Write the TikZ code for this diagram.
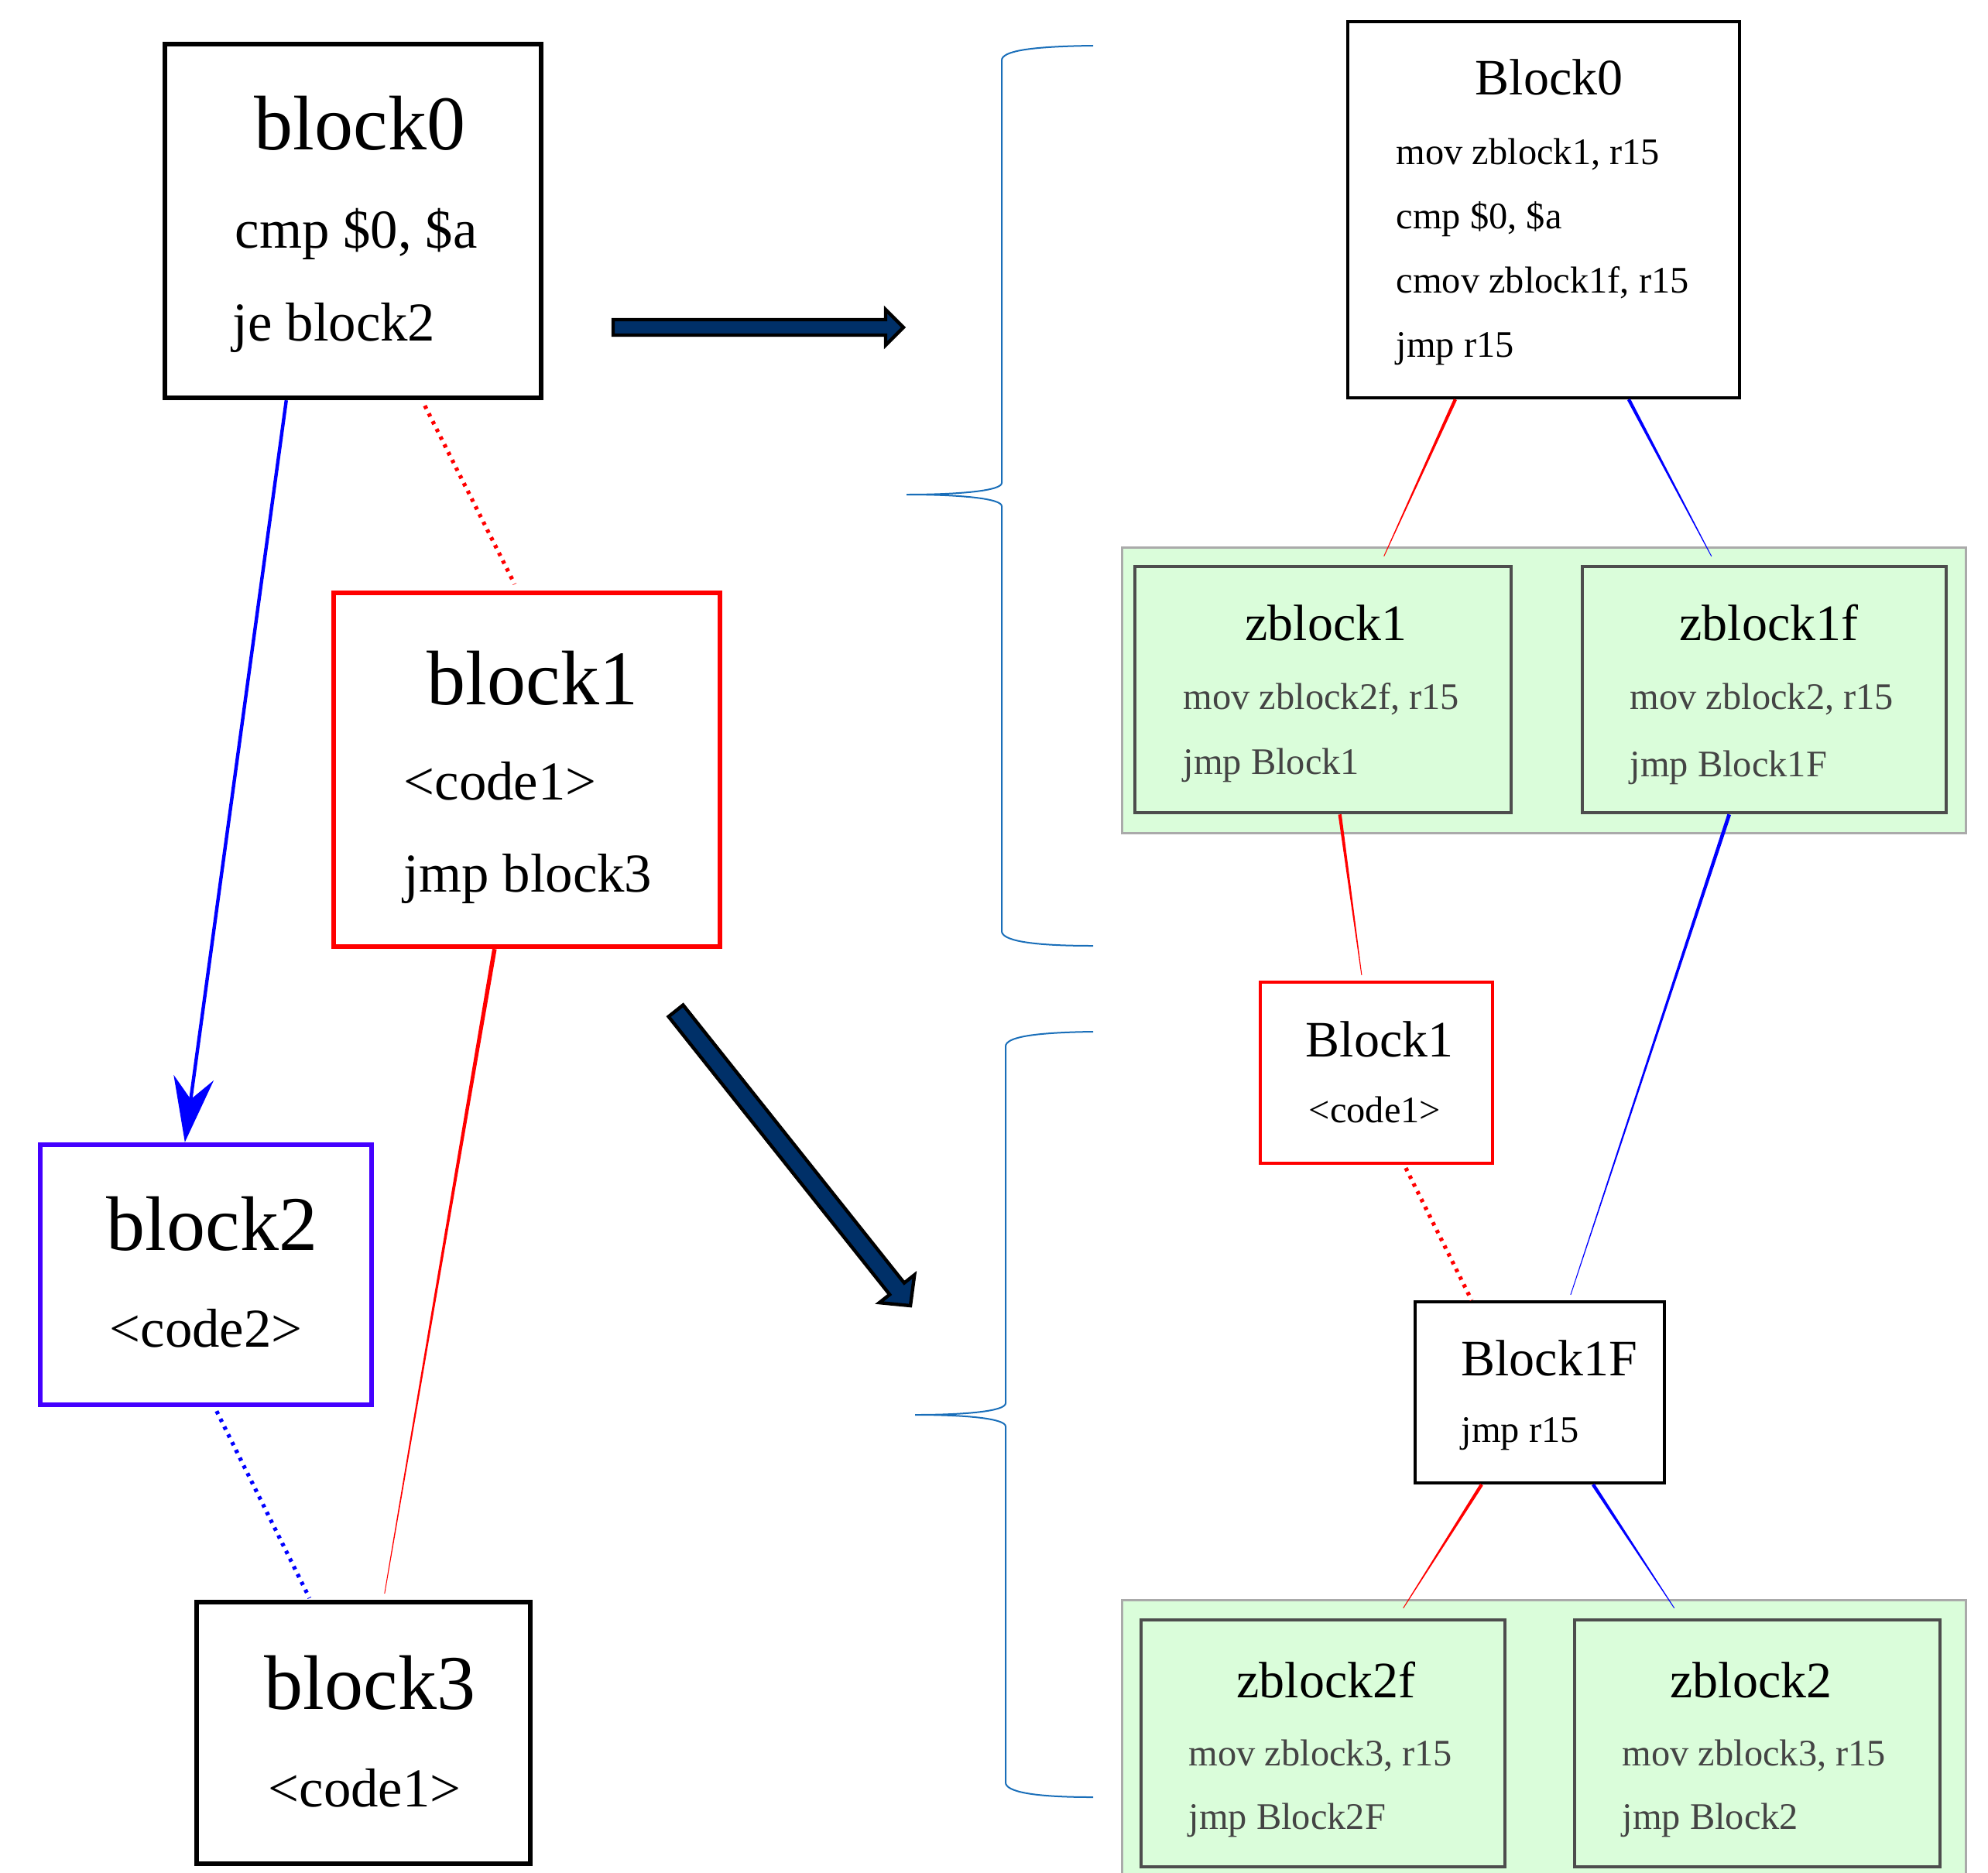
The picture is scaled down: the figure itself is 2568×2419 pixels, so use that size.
\documentclass[tikz,border=0pt]{standalone}
\usepackage{fontspec}
\setmainfont{Liberation Serif}
\usetikzlibrary{arrows.meta,calc}

\definecolor{navy}{RGB}{0,48,104}
\definecolor{bracecol}{RGB}{25,110,185}
\definecolor{clfill}{RGB}{218,253,218}
\definecolor{clborder}{RGB}{170,170,170}
\definecolor{zbborder}{RGB}{77,77,77}
\definecolor{codegray}{RGB}{68,68,68}
\definecolor{violetblue}{RGB}{68,0,255}

% tapered edge: wide at the source, fading to a hairline at the target
\newcommand\taperline[4]{%
  \fill[#1] ($(#3)!#2!90:(#4)$) -- ($(#4)!0.12pt!-90:(#3)$)
        -- ($(#4)!0.12pt!90:(#3)$) -- ($(#3)!#2!-90:(#4)$) -- cycle;}

\tikzset{
  lbox/.style={draw, rectangle, line width=1.6pt, inner sep=0pt},
  rbox/.style={draw, rectangle, line width=1.05pt, inner sep=0pt},
  zbox/.style={draw=zbborder, fill=clfill, rectangle, line width=1.15pt, inner sep=0pt},
  clusterbox/.style={draw=clborder, fill=clfill, rectangle, line width=0.75pt, inner sep=0pt},
  ltitle/.style={anchor=base, inner sep=0pt, font=\fontsize{25}{30}\selectfont},
  lline/.style={anchor=base west, inner sep=0pt, font=\fontsize{17.7}{21}\selectfont},
  rtitle/.style={anchor=base, inner sep=0pt, font=\fontsize{16.5}{20}\selectfont},
  rline/.style={anchor=base west, inner sep=0pt, font=\fontsize{12.1}{14}\selectfont},
  zline/.style={rline, text=codegray},
  dotline/.style={line width=1.3pt, dash pattern=on 1.1pt off 1.7pt},
  bigarrow/.style={fill=navy, draw=black, line width=1.1pt, line join=miter},
  brace/.style={draw=bracecol, line width=0.5pt},
}

\begin{document}
\begin{tikzpicture}[x=0.25pt,y=-0.25pt]
\useasboundingbox (0,0) rectangle (2568,2419);
\clip (0,0) rectangle (2568,2419);

% ---------- original control flow ----------
\node[lbox, minimum width=121.5pt, minimum height=114.25pt] (b0) at (456,285.5) {};
\node[lbox, draw=red, minimum width=124.75pt, minimum height=114.25pt] (b1) at (680.5,994.5) {};
\node[lbox, draw=violetblue, minimum width=107pt, minimum height=84pt] (b2) at (266,1647) {};
\node[lbox, minimum width=107.75pt, minimum height=84.5pt] (b3) at (469.5,2239) {};

\node[ltitle] (b0t) at (465,194) {block0};
\node[lline] (b0l1) at (303,320) {cmp \$0, \$a};
\node[lline] (b0l2) at (300,440) {je block2};

\node[ltitle] (b1t) at (688,910) {block1};
\node[lline] (b1l1) at (521,1033) {<code1>};
\node[lline] (b1l2) at (521,1152) {jmp block3};

\node[ltitle] (b2t) at (274,1615) {block2};
\node[lline] (b2l1) at (141,1740) {<code2>};

\node[ltitle] (b3t) at (478,2208) {block3};
\node[lline] (b3l1) at (346,2334) {<code1>};

% left edges
\coordinate (e02s) at ($(b0.south west)+(160,0)$);
\coordinate (e02e) at ($(b2.north west)+(190,0)$);
\draw[blue, line width=1.1pt, -{Stealth[length=21pt,width=13pt,inset=7pt]}] (e02s) -- (e02e);

\coordinate (e01s) at ($(b0.south west)+(339,7)$);
\coordinate (e01e) at ($(b1.north west)+(237,-8)$);
\draw[red, dotline] (e01s) -- (e01e);

\coordinate (e13s) at ($(b1.south west)+(211,0)$);
\coordinate (e13e) at ($(b3.north west)+(246,-8)$);
\taperline{red}{0.7pt}{e13s}{e13e}

\coordinate (e23s) at ($(b2.south west)+(231,5)$);
\coordinate (e23e) at ($(b3.north west)+(149,-2)$);
\draw[blue, dotline] (e23s) -- (e23e);

% ---------- transformation arrows ----------
\draw[bigarrow] (792,413) -- (1144,413) -- (1144,400) -- (1167,423) -- (1144,446)
  -- (1144,433) -- (792,433) -- cycle;
\draw[bigarrow] (863.6,1313.5) -- (1149.2,1672.6) -- (1135.9,1683.1) -- (1176,1687)
  -- (1181.3,1647.1) -- (1168.0,1657.6) -- (882.4,1298.5) -- cycle;

% ---------- braces ----------
\draw[brace] (1412,59) .. controls (1330,60) and (1294,66) .. (1294,78)
  -- (1294,624) .. controls (1294,634) and (1240,639) .. (1171,639)
  .. controls (1240,639) and (1294,644) .. (1294,654)
  -- (1294,1203) .. controls (1294,1215) and (1330,1222) .. (1412,1222);
\draw[brace] (1412,1333) .. controls (1335,1334) and (1299,1340) .. (1299,1352)
  -- (1299,1813) .. controls (1299,1823) and (1250,1828) .. (1182,1828)
  .. controls (1250,1828) and (1299,1833) .. (1299,1843)
  -- (1299,2303) .. controls (1299,2315) and (1335,2322) .. (1412,2322);

% ---------- transformed control flow ----------
\node[clusterbox, minimum width=272.5pt, minimum height=92.25pt] (c1) at (1994,891.5) {};
\node[clusterbox, minimum width=272.5pt, minimum height=98.25pt] (c2) at (1994,2263.5) {};

\node[rbox, minimum width=126.5pt, minimum height=121.5pt] (B0) at (1994,271) {};
\node[zbox, minimum width=121.5pt, minimum height=79.5pt] (zb1) at (1709,891) {};
\node[zbox, minimum width=117.5pt, minimum height=79.5pt] (zb1f) at (2279,891) {};
\node[rbox, draw=red, minimum width=75pt, minimum height=58.5pt] (B1) at (1778,1386) {};
\node[rbox, minimum width=80.5pt, minimum height=58.5pt] (B1F) at (1989,1799) {};
\node[zbox, minimum width=117.5pt, minimum height=79.75pt] (zb2f) at (1709,2252.5) {};
\node[zbox, minimum width=118pt, minimum height=79.75pt] (zb2) at (2270,2252.5) {};

\node[rtitle] (B0t) at (2001,123) {Block0};
\node[rline] (B0l1) at (1803,212) {mov zblock1, r15};
\node[rline] (B0l2) at (1803,296) {cmp \$0, \$a};
\node[rline] (B0l3) at (1803,378) {cmov zblock1f, r15};
\node[rline] (B0l4) at (1803,461) {jmp r15};

\node[rtitle] (zb1t) at (1713,827) {zblock1};
\node[zline] (zb1l1) at (1528,916) {mov zblock2f, r15};
\node[zline] (zb1l2) at (1528,1000) {jmp Block1};

\node[rtitle] (zb1ft) at (2285,827) {zblock1f};
\node[zline] (zb1fl1) at (2105,916) {mov zblock2, r15};
\node[zline] (zb1fl2) at (2105,1003) {jmp Block1F};

\node[rtitle] (B1t) at (1782,1365) {Block1};
\node[rline] (B1l1) at (1690,1450) {<code1>};

\node[rtitle] (B1Ft) at (2001,1777) {Block1F};
\node[rline] (B1Fl1) at (1887,1863) {jmp r15};

\node[rtitle] (zb2ft) at (1713,2193) {zblock2f};
\node[zline] (zb2fl1) at (1535,2281) {mov zblock3, r15};
\node[zline] (zb2fl2) at (1535,2363) {jmp Block2F};

\node[rtitle] (zb2t) at (2262,2193) {zblock2};
\node[zline] (zb2l1) at (2095,2281) {mov zblock3, r15};
\node[zline] (zb2l2) at (2095,2363) {jmp Block2};

% right edges
\coordinate (r1s) at ($(B0.south west)+(141,0)$);
\coordinate (r1e) at ($(zb1.north west)+(324,-11)$);
\taperline{red}{0.55pt}{r1s}{r1e}

\coordinate (r2s) at ($(B0.south west)+(365,0)$);
\coordinate (r2e) at ($(zb1f.north west)+(169,-11)$);
\taperline{blue}{0.55pt}{r2s}{r2e}

\coordinate (r3s) at ($(zb1.south west)+(267,0)$);
\coordinate (r3e) at ($(B1.north west)+(133,-7)$);
\taperline{red}{0.55pt}{r3s}{r3e}

\coordinate (r4s) at ($(zb1f.south west)+(192,0)$);
\coordinate (r4e) at ($(B1F.north west)+(203,-7)$);
\taperline{blue}{0.6pt}{r4s}{r4e}

\coordinate (r5s) at ($(B1.south west)+(190,4)$);
\coordinate (r5e) at ($(B1F.north west)+(75,0)$);
\draw[red, dotline] (r5s) -- (r5e);

\coordinate (r6s) at ($(B1F.south west)+(88,0)$);
\coordinate (r6e) at ($(zb2f.north west)+(341,-13)$);
\taperline{red}{0.55pt}{r6s}{r6e}

\coordinate (r7s) at ($(B1F.south west)+(232,0)$);
\coordinate (r7e) at ($(zb2.north west)+(131,-13)$);
\taperline{blue}{0.55pt}{r7s}{r7e}
\end{tikzpicture}
\end{document}
